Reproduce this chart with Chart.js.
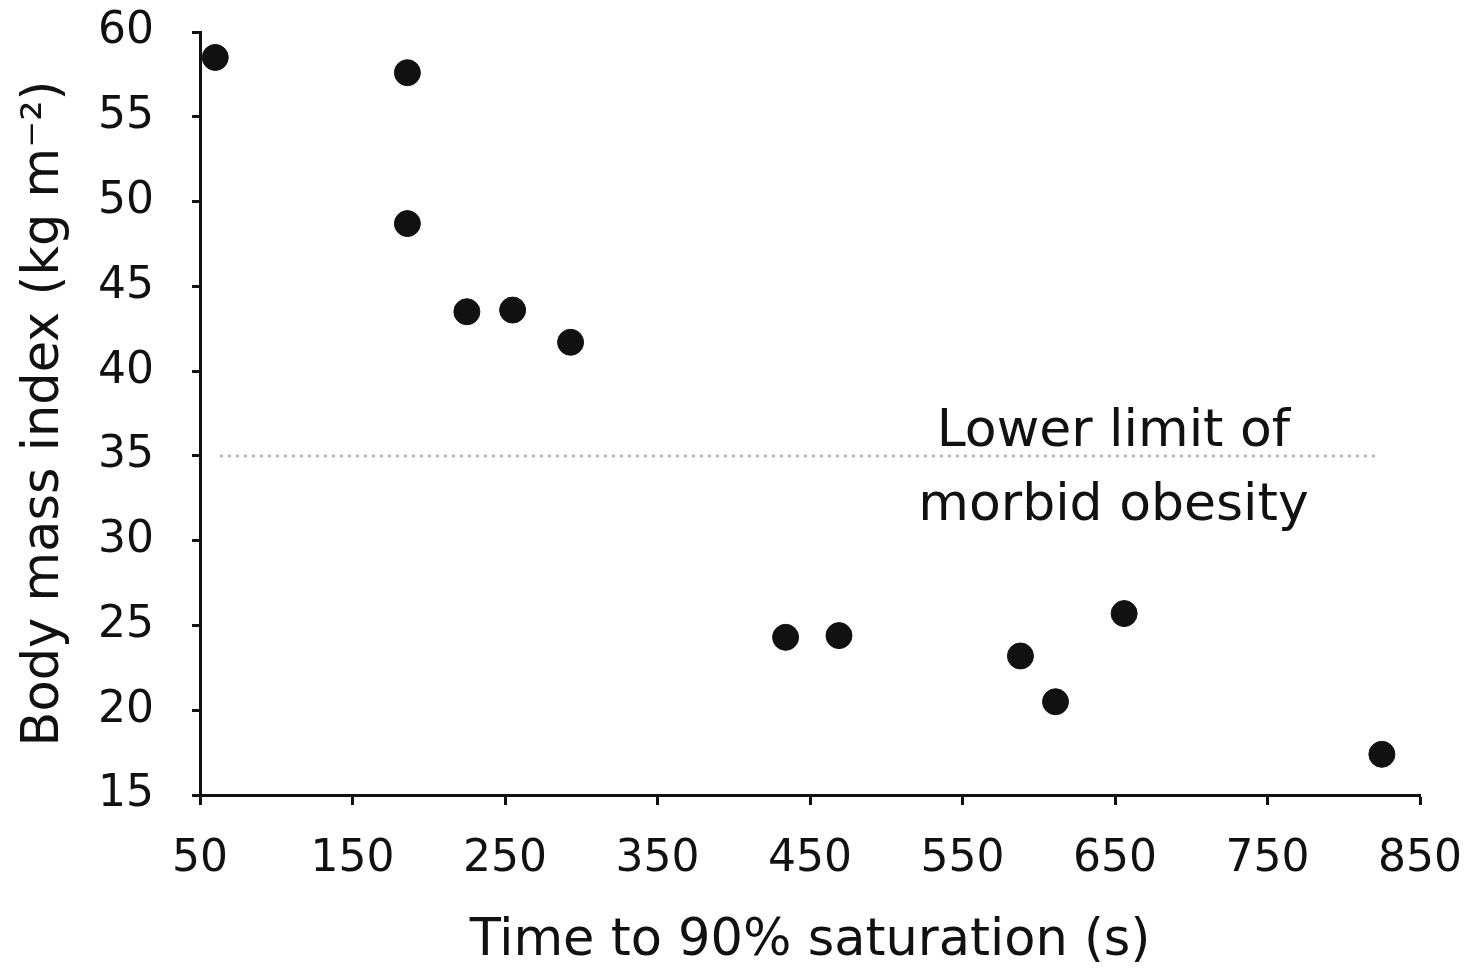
<!DOCTYPE html>
<html>
<head>
<meta charset="utf-8">
<script src="https://cdn.jsdelivr.net/npm/chart.js@4/dist/chart.umd.min.js"></script>
<style>
  html, body { margin: 0; padding: 0; background: #ffffff; }
  #wrap { width: 1466px; height: 972px; }
</style>
</head>
<body>
<div id="wrap"><canvas id="scatter_chart" width="1466" height="972"></canvas></div>
<script>
const saturationTimes = [60, 186, 186, 225, 255, 293, 434, 469, 588, 611, 656, 825]
const bodyMassIndex = [58.5, 57.6, 48.7, 43.5, 43.6, 41.7, 24.3, 24.4, 23.2, 20.5, 25.7, 17.4]

const limitX = [63, 823]
const limitY = [35, 35]

const noteLines = ["Lower limit of", "morbid obesity"]
const noteX = 649
const noteY = [36.4, 32.0]

const xTicks = [50, 150, 250, 350, 450, 550, 650, 750, 850]
const yTicks = [15, 20, 25, 30, 35, 40, 45, 50, 55, 60]

const ink = "#111111"
const tickFont = { family: "'DejaVu Sans', sans-serif", size: 44 }
const titleFont = { family: "'DejaVu Sans', sans-serif", size: 51 }

const noteLabel = {
  id: "noteLabel",
  afterDatasetsDraw(chart) {
    const { ctx, scales } = chart
    ctx.save()
    ctx.fillStyle = ink
    ctx.font = "52px 'DejaVu Sans', sans-serif"
    ctx.textAlign = "center"
    ctx.textBaseline = "middle"
    noteLines.forEach((line, i) => {
      ctx.fillText(line, scales.x.getPixelForValue(noteX), scales.y.getPixelForValue(noteY[i]))
    })
    ctx.restore()
  },
}

new Chart(document.getElementById("scatter_chart"), {
  type: "scatter",
  plugins: [noteLabel],
  options: {
    responsive: false,
    devicePixelRatio: 1,
    animation: false,
    layout: {
      padding: { top: 32, right: 46, left: 0, bottom: 0 },
    },
    scales: {
      x: {
        type: "linear",
        min: 50,
        max: 850,
        afterBuildTicks: (scale) => {
          scale.ticks = xTicks.map((v) => ({ value: v }))
        },
        afterFit: (scale) => {
          scale.height = 177
          scale.paddingLeft = 0
          scale.paddingRight = 0
        },
        ticks: {
          color: ink,
          font: tickFont,
          padding: 28,
          maxRotation: 0,
          autoSkip: false,
        },
        grid: {
          drawOnChartArea: false,
          drawTicks: true,
          tickLength: 10,
          tickWidth: 3,
          tickColor: ink,
        },
        border: { display: true, color: ink, width: 3 },
        title: {
          display: true,
          text: "Time to 90% saturation (s)",
          color: ink,
          font: titleFont,
          padding: { top: 2, bottom: 0 },
        },
      },
      y: {
        type: "linear",
        min: 15,
        max: 60,
        afterBuildTicks: (scale) => {
          scale.ticks = yTicks.map((v) => ({ value: v }))
        },
        afterFit: (scale) => {
          scale.width = 200
          scale.paddingTop = 0
          scale.paddingBottom = 0
        },
        ticks: {
          color: ink,
          font: tickFont,
          padding: 38,
          autoSkip: false,
        },
        grid: {
          drawOnChartArea: false,
          drawTicks: true,
          tickLength: 8,
          tickWidth: 3,
          tickColor: ink,
        },
        border: { display: true, color: ink, width: 3 },
        title: {
          display: true,
          text: "Body mass index (kg m\u207B\u00B2)",
          color: ink,
          font: titleFont,
          padding: { top: 14, bottom: 0 },
        },
      },
    },
    plugins: {
      legend: { display: false },
      tooltip: { enabled: false },
    },
  },
  data: {
    datasets: [
      {
        type: "scatter",
        data: saturationTimes.map((t, i) => ({ x: t, y: bodyMassIndex[i] })),
        backgroundColor: ink,
        borderColor: ink,
        pointRadius: 13,
        pointHoverRadius: 13,
        order: 1,
      },
      {
        type: "line",
        data: limitX.map((x, i) => ({ x: x, y: limitY[i] })),
        borderColor: "#b8b8b8",
        borderWidth: 3,
        borderDash: [3, 5],
        pointRadius: 0,
        fill: false,
        order: 2,
      },
    ],
  },
})
</script>
</body>
</html>
